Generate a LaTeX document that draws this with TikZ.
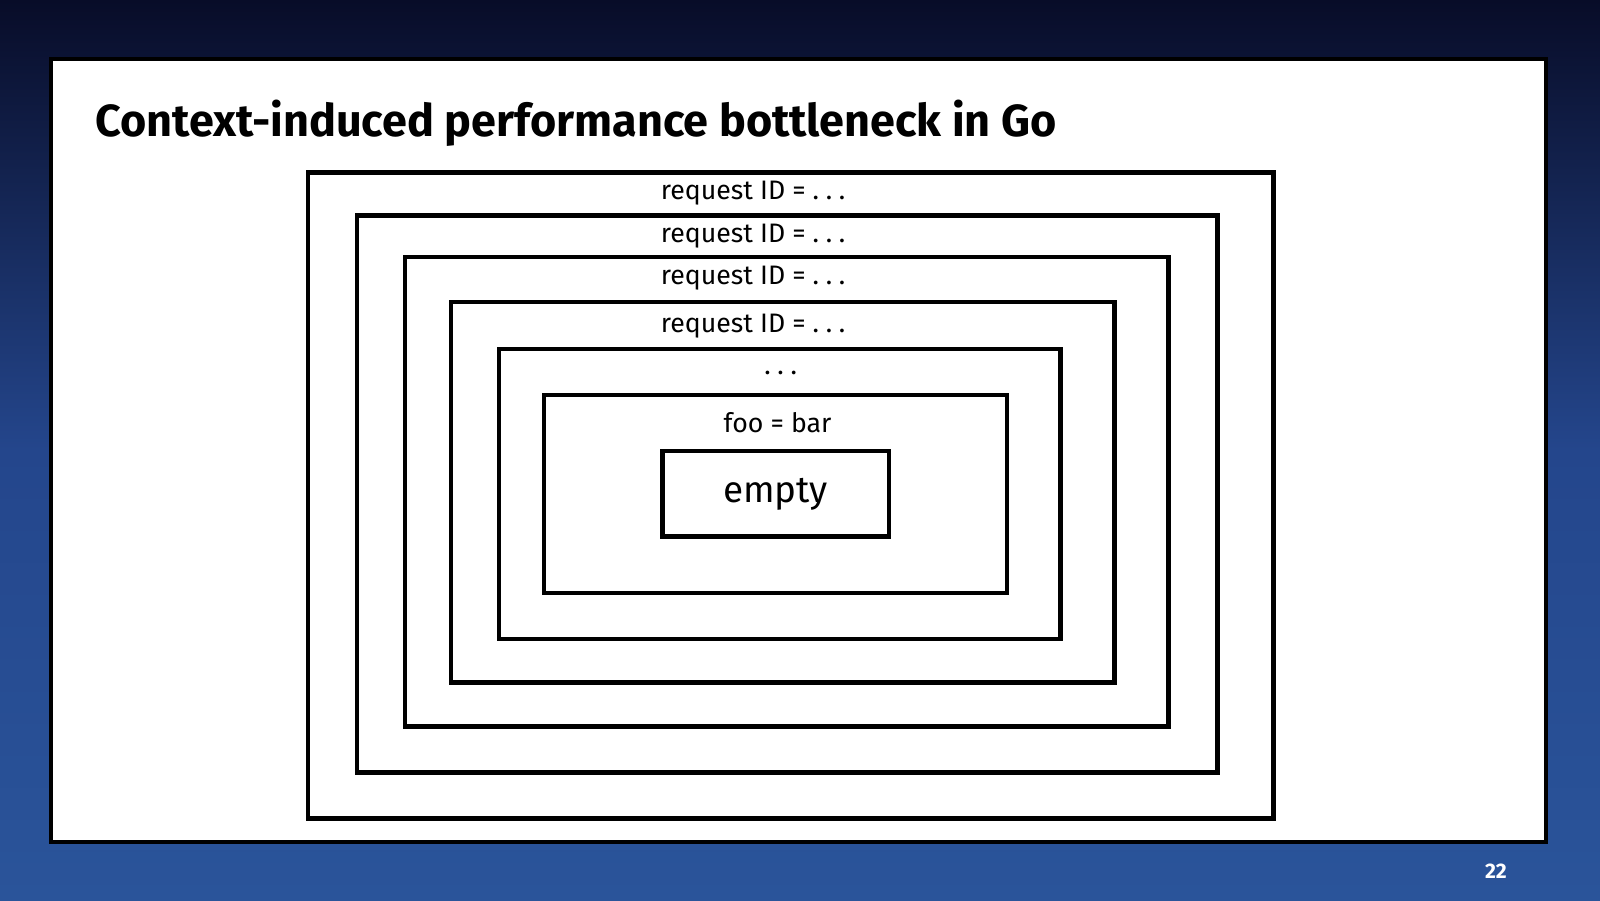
\documentclass[tikz,border=0pt]{standalone}
\usepackage{fontspec}
\setmainfont{Fira Sans}
\begin{document}
\begin{tikzpicture}[x=0.010204cm,y=-0.010204cm]
\tikzset{ctx/.style = {draw=black,line width=1.3pt,rectangle,inner sep=0pt}}
\tikzset{lbl/.style = {font=\fontsize{7.6}{9}\selectfont\fontseries{l}\selectfont,inner sep=0pt}}
\newcommand{\spdots}{.\hspace{0.25em}.\hspace{0.25em}.}

% background
\shade[top color={rgb,255:red,8;green,12;blue,40},bottom color={rgb,255:red,42;green,84;blue,154},middle color={rgb,255:red,36;green,70;blue,140}] (0,0) rectangle (1568,882);
\useasboundingbox (0,0) rectangle (1568,882);
\draw[fill=white,draw=black,line width=1.2pt] (50,58) rectangle (1515,825);

% title
\node[anchor=west,inner sep=0pt,font=\fontsize{12.8}{15}\selectfont\bfseries] (title) at (93,121) {Context-induced performance bottleneck in Go};

% nested contexts
\node[ctx,minimum width=946*0.010204cm,minimum height=633*0.010204cm] (c1) at (775,485.5) {};
\node[ctx,minimum width=843*0.010204cm,minimum height=546*0.010204cm] (c2) at (771.5,484) {};
\node[ctx,minimum width=748*0.010204cm,minimum height=460*0.010204cm] (c3) at (771,482) {};
\node[ctx,minimum width=650*0.010204cm,minimum height=373*0.010204cm] (c4) at (767,482.5) {};
\node[ctx,minimum width=550*0.010204cm,minimum height=284*0.010204cm] (c5) at (764,484) {};
\node[ctx,minimum width=454*0.010204cm,minimum height=194*0.010204cm] (c6) at (760,484) {};
\node[ctx,minimum width=222*0.010204cm,minimum height=84*0.010204cm,font=\fontsize{10.5}{12}\selectfont] (empty) at (760,484) {empty};

% labels
\node[lbl] (l1) at (738,189) {request ID = \spdots};
\node[lbl] (l2) at (738,231) {request ID = \spdots};
\node[lbl] (l3) at (738,273) {request ID = \spdots};
\node[lbl] (l4) at (738,320) {request ID = \spdots};
\node[lbl] (l5) at (765,365) {\spdots};
\node[lbl] (l6) at (762,414) {foo = bar};

% page number
\node[text=white,font=\fontsize{6}{7}\selectfont\bfseries] (page) at (1466,854) {22};
\end{tikzpicture}
\end{document}
